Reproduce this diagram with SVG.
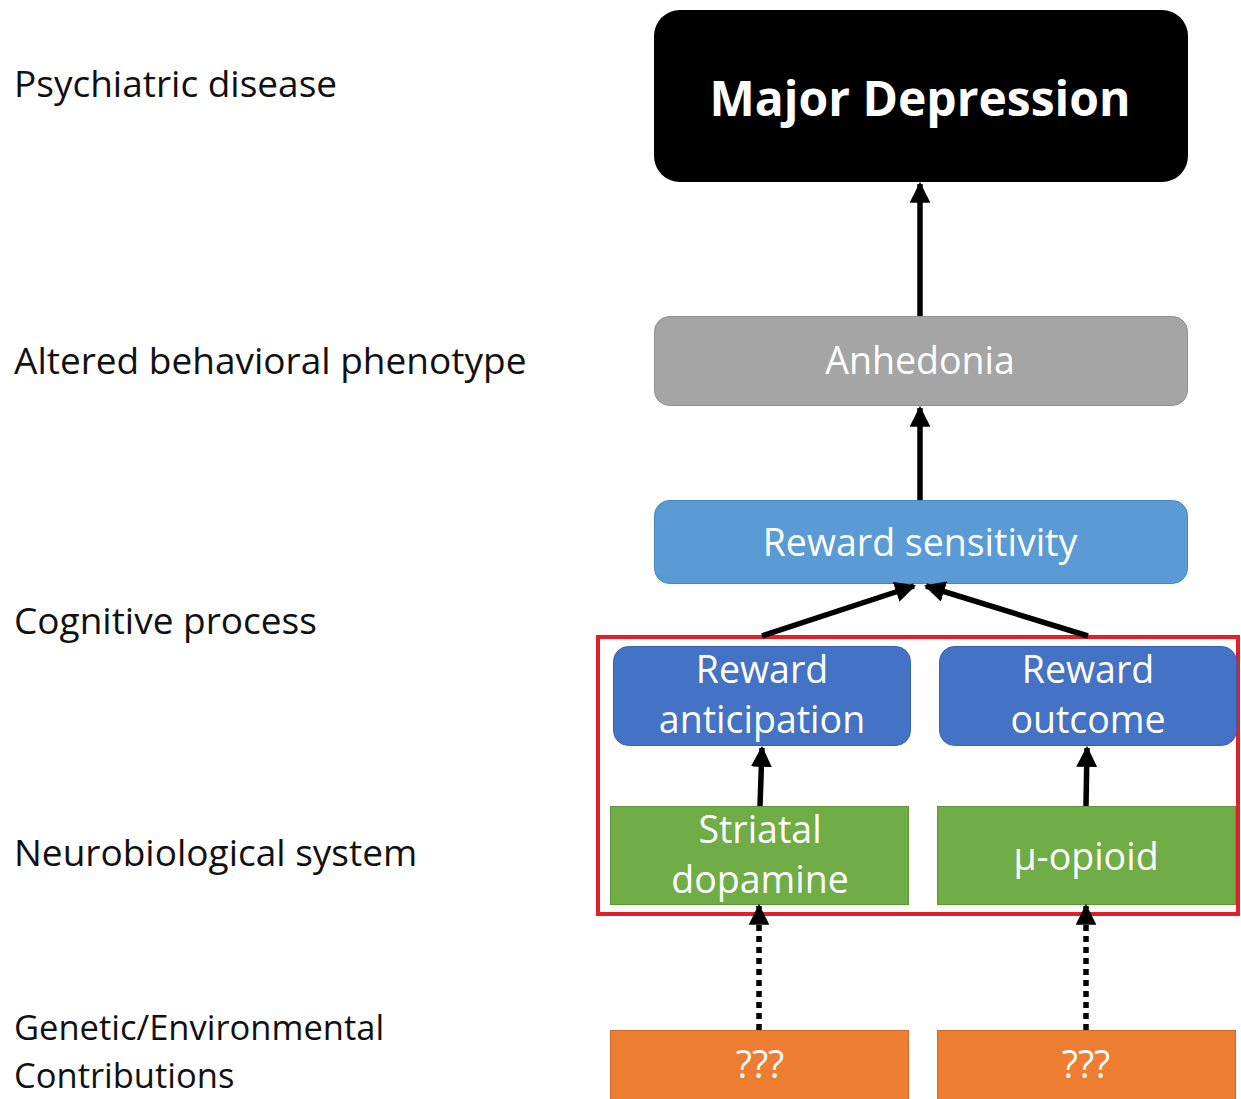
<svg xmlns="http://www.w3.org/2000/svg" width="1241" height="1099" viewBox="0 0 1241 1099">
<defs>
<style>
.lbl{font-family:"Open Sans","Noto Sans","Liberation Sans",sans-serif;font-size:37px;fill:#111}
.nt{font-family:"Open Sans","Noto Sans","Liberation Sans",sans-serif;font-size:37.5px;fill:#fff;text-anchor:middle}
.conn{stroke:#000;stroke-width:5.5;fill:none}
.dot{stroke:#000;stroke-width:5.5;fill:none;stroke-dasharray:6 5}
</style>
<marker id="ah" viewBox="0 0 10 10" refX="9" refY="5" markerWidth="3.8" markerHeight="3.8" orient="auto" markerUnits="strokeWidth">
<path d="M0,0 L10,5 L0,10 z" fill="#000"/>
</marker>
</defs>
<rect width="1241" height="1099" fill="#fff"/>
<g id="labels">
<text class="lbl" x="14" y="97">Psychiatric disease</text>
<text class="lbl" x="14" y="374">Altered behavioral phenotype</text>
<text class="lbl" x="14" y="634">Cognitive process</text>
<text class="lbl" x="14" y="866">Neurobiological system</text>
<text class="lbl" x="14" y="1040" style="font-size:34.5px">Genetic/Environmental</text>
<text class="lbl" x="14" y="1088" style="font-size:34.5px">Contributions</text>
</g>
<g id="highlight">
<rect x="598" y="637" width="640" height="277" fill="none" stroke="#e0202a" stroke-width="4"/>
</g>
<g id="major-depression">
<rect x="654" y="10" width="534" height="172" rx="26" fill="#000"/>
<text class="nt" x="920" y="116" style="font-size:48px;font-weight:bold">Major Depression</text>
</g>
<g id="anhedonia">
<rect x="654.5" y="316.5" width="533" height="89" rx="15" fill="#a5a5a5" stroke="#8f8f8f"/>
<text class="nt" x="920" y="374">Anhedonia</text>
</g>
<g id="reward-sensitivity">
<rect x="654.5" y="500.5" width="533" height="83" rx="15" fill="#5b9bd5" stroke="#4a86bd"/>
<text class="nt" x="920" y="556">Reward sensitivity</text>
</g>
<g id="reward-anticipation">
<rect x="613.5" y="646.5" width="297" height="99" rx="15" fill="#4472c4" stroke="#3a62ab"/>
<text class="nt" x="762" y="683">Reward</text>
<text class="nt" x="762" y="733">anticipation</text>
</g>
<g id="reward-outcome">
<rect x="939.5" y="646.5" width="297" height="99" rx="15" fill="#4472c4" stroke="#3a62ab"/>
<text class="nt" x="1088" y="683">Reward</text>
<text class="nt" x="1088" y="733">outcome</text>
</g>
<g id="striatal-dopamine">
<rect x="610.5" y="806.5" width="298" height="98" fill="#70ad47" stroke="#5e9438"/>
<text class="nt" x="760" y="843">Striatal</text>
<text class="nt" x="760" y="893">dopamine</text>
</g>
<g id="mu-opioid">
<rect x="937.5" y="806.5" width="298" height="98" fill="#70ad47" stroke="#5e9438"/>
<text class="nt" x="1086" y="870">μ-opioid</text>
</g>
<g id="genetic-1">
<rect x="610.5" y="1030.5" width="298" height="75" fill="#ed7d31" stroke="#c96a28"/>
<text class="nt" x="760" y="1078">???</text>
</g>
<g id="genetic-2">
<rect x="937.5" y="1030.5" width="298" height="75" fill="#ed7d31" stroke="#c96a28"/>
<text class="nt" x="1086" y="1078">???</text>
</g>
<g id="connectors">
<line class="conn" x1="920" y1="316" x2="920" y2="184" marker-end="url(#ah)"/>
<line class="conn" x1="920" y1="500" x2="920" y2="408" marker-end="url(#ah)"/>
<line class="conn" x1="762" y1="636" x2="914" y2="586" marker-end="url(#ah)"/>
<line class="conn" x1="1088" y1="636" x2="926" y2="586" marker-end="url(#ah)"/>
<line class="conn" x1="760" y1="806" x2="762" y2="748" marker-end="url(#ah)"/>
<line class="conn" x1="1086" y1="806" x2="1087" y2="748" marker-end="url(#ah)"/>
<line class="dot" x1="759" y1="1030" x2="759" y2="906" marker-end="url(#ah)"/>
<line class="dot" x1="1086" y1="1030" x2="1086" y2="906" marker-end="url(#ah)"/>
</g>
</svg>
